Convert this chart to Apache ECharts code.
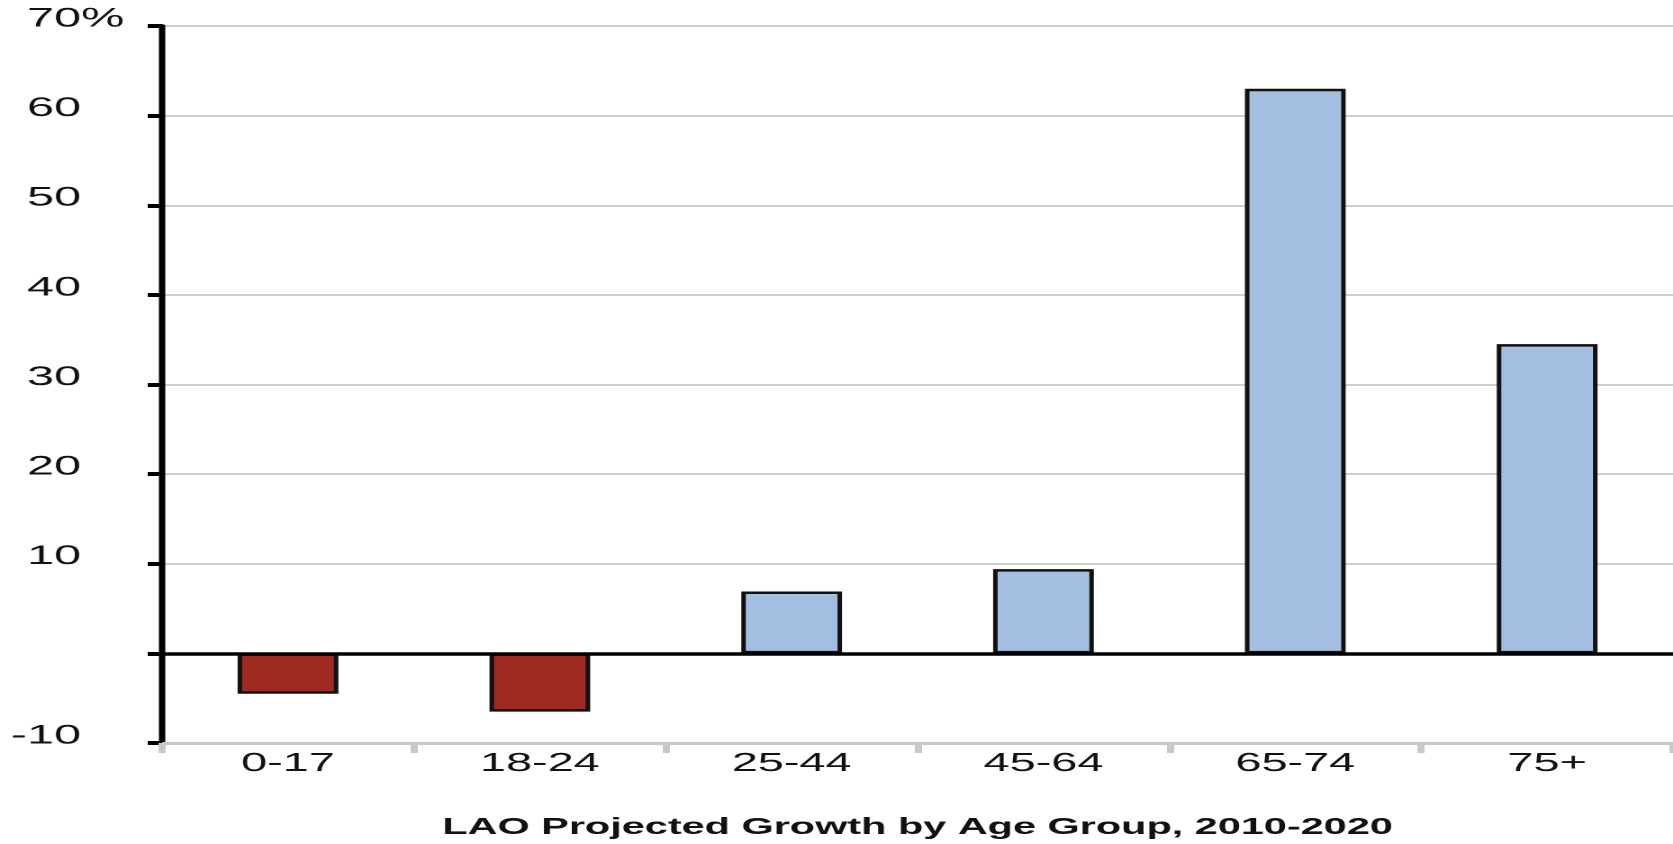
<!DOCTYPE html>
<html>
<head>
<meta charset="utf-8">
<script src="https://cdn.jsdelivr.net/npm/echarts@6/dist/echarts.min.js"></script>
<style>
  html, body { margin: 0; padding: 0; background: #fff; overflow: hidden; }
  /* the reference is horizontally stretched, so draw narrow and stretch */
  #main { width: 929px; height: 844px; transform: scaleX(1.8009); transform-origin: 0 0; }
</style>
</head>
<body>
<div id="main"></div>
<script>
  var ageGroups = ['0-17', '18-24', '25-44', '45-64', '65-74', '75+'];
  var growth = [-4.5, -6.5, 6.9, 9.4, 63.0, 34.5];
  var chartTitle = 'LAO Projected Growth by Age Group, 2010-2020';

  var font = "'Liberation Sans', Arial, sans-serif";
  var red = '#9e2a22', blue = '#a4bee2';

  var chart = echarts.init(document.getElementById('main'), null, { devicePixelRatio: 2 });

  chart.setOption({
    animation: false,
    grid: { left: 90, right: 0, top: 26, bottom: 101 },
    xAxis: {
      type: 'category',
      data: ageGroups,
      name: chartTitle,
      nameLocation: 'middle',
      nameGap: 73,
      nameTextStyle: { fontFamily: font, fontSize: 23, fontWeight: 'bold', color: '#111' },
      axisLine: { onZero: false, lineStyle: { color: '#c8c8c8', width: 3 } },
      axisTick: { show: true, length: 10, lineStyle: { color: '#c8c8c8', width: 4 } },
      axisLabel: { margin: 8, fontFamily: font, fontSize: 26, color: '#111' },
      splitLine: { show: false }
    },
    yAxis: {
      type: 'value',
      min: -10,
      max: 70,
      interval: 10,
      axisLine: { show: true, lineStyle: { color: '#000', width: 3.5 } },
      axisTick: { show: true, length: 8, lineStyle: { color: '#000', width: 4 } },
      axisLabel: {
        margin: 21,
        padding: [0, 0, 14, 0],
        fontFamily: font,
        fontSize: 27,
        color: '#111',
        formatter: function (v) {
          if (v === 0) return '';
          return v === 70 ? '70%' : v + '{h|%}';
        },
        rich: { h: { color: 'rgba(0,0,0,0)', fontSize: 27, fontFamily: font } }
      },
      splitLine: { show: true, lineStyle: { color: '#d0d0d0', width: 2 } }
    },
    series: [{
      type: 'bar',
      barWidth: '40%',
      data: growth.map(function (v) {
        return { value: v, itemStyle: { color: v < 0 ? red : blue } };
      }),
      itemStyle: { borderColor: '#111', borderWidth: 2.5 },
      markLine: {
        silent: true,
        symbol: 'none',
        label: { show: false },
        lineStyle: { color: '#000', width: 3.5, type: 'solid' },
        data: [{ yAxis: 0 }]
      }
    }]
  });
</script>
</body>
</html>
